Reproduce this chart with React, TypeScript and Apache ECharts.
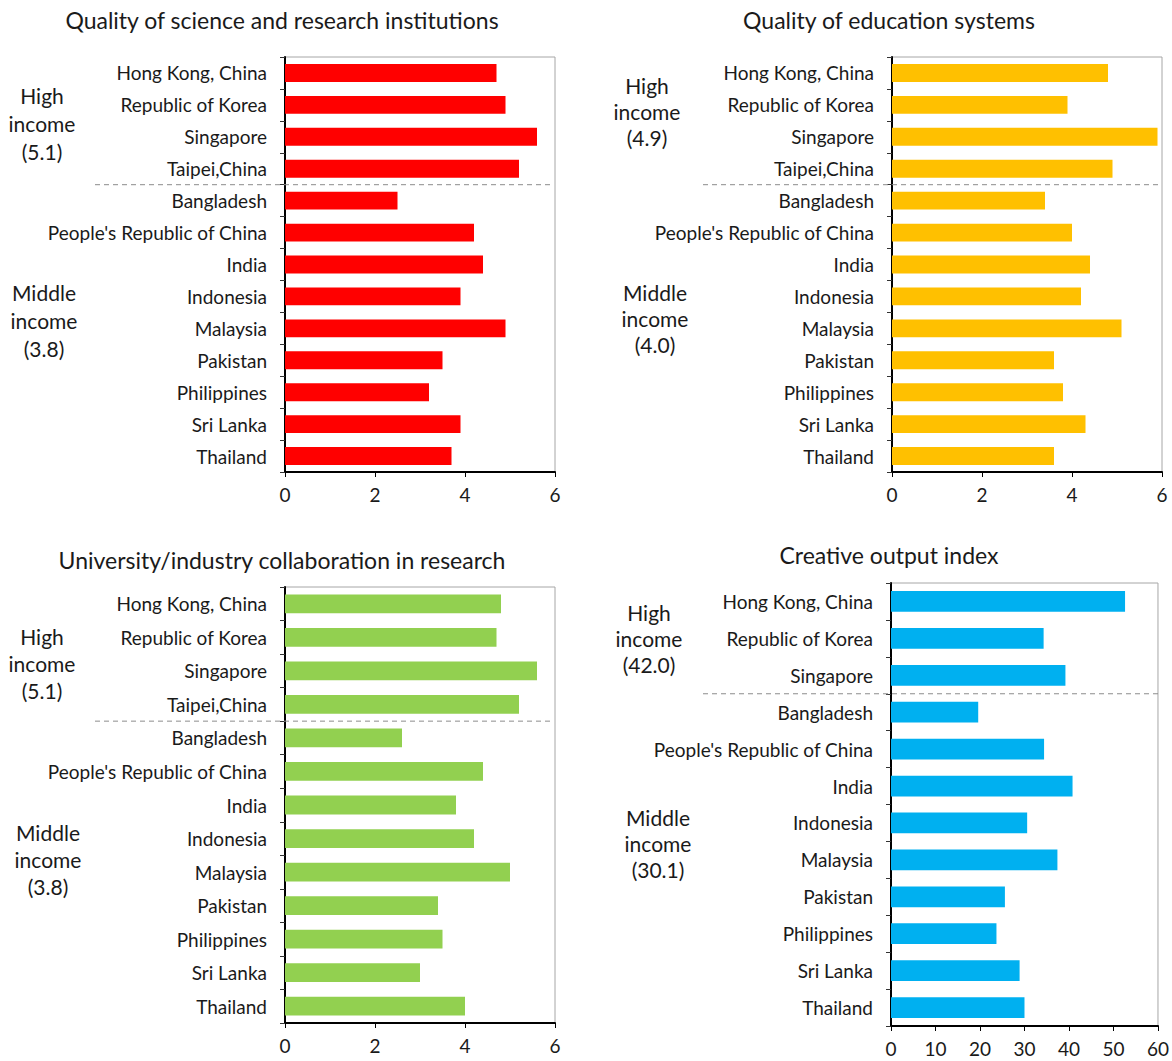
import React, { useEffect, useRef } from "react";
import * as echarts from "echarts";

// ---------- data ----------
const countries13 = [
  "Hong Kong, China",
  "Republic of Korea",
  "Singapore",
  "Taipei,China",
  "Bangladesh",
  "People's Republic of China",
  "India",
  "Indonesia",
  "Malaysia",
  "Pakistan",
  "Philippines",
  "Sri Lanka",
  "Thailand",
];
const countries12 = [
  "Hong Kong, China",
  "Republic of Korea",
  "Singapore",
  "Bangladesh",
  "People's Republic of China",
  "India",
  "Indonesia",
  "Malaysia",
  "Pakistan",
  "Philippines",
  "Sri Lanka",
  "Thailand",
];

const scienceValues = [4.7, 4.9, 5.6, 5.2, 2.5, 4.2, 4.4, 3.9, 4.9, 3.5, 3.2, 3.9, 3.7];
const educationValues = [4.8, 3.9, 5.9, 4.9, 3.4, 4.0, 4.4, 4.2, 5.1, 3.6, 3.8, 4.3, 3.6];
const collaborationValues = [4.8, 4.7, 5.6, 5.2, 2.6, 4.4, 3.8, 4.2, 5.0, 3.4, 3.5, 3.0, 4.0];
const creativeValues = [52.6, 34.3, 39.2, 19.6, 34.4, 40.8, 30.6, 37.4, 25.6, 23.7, 28.9, 30.0];

const titles = [
  "Quality of science and research institutions",
  "Quality of education systems",
  "University/industry collaboration in research",
  "Creative output index",
];
const highLabels = ["High\nincome\n(5.1)", "High\nincome\n(4.9)", "High\nincome\n(5.1)", "High\nincome\n(42.0)"];
const middleLabels = ["Middle\nincome\n(3.8)", "Middle\nincome\n(4.0)", "Middle\nincome\n(3.8)", "Middle\nincome\n(30.1)"];
const highCounts = [4, 4, 4, 3];

const scoreTicks = { min: 0, max: 6, interval: 2 };
const creativeTicks = { min: 0, max: 60, interval: 10 };

// ---------- layout / style ----------
const FONT = "Lato, 'Open Sans', sans-serif";
const TEXT = "#1a1a1a";
const colors = ["#FF0000", "#FFC000", "#92D050", "#00B0F0"];
const grids = [
  { left: 285, top: 57, width: 270, height: 415 },
  { left: 892, top: 57, width: 270, height: 415 },
  { left: 285, top: 587, width: 270, height: 436 },
  { left: 891, top: 583, width: 271, height: 443 },
];
const titlePos = [
  { x: 282, y: 20 },
  { x: 889, y: 20 },
  { x: 282, y: 560 },
  { x: 889, y: 555 },
];
const highPos = [
  { x: 42, y: 123 },
  { x: 647, y: 111 },
  { x: 42, y: 663 },
  { x: 649, y: 638 },
];
const middlePos = [
  { x: 44, y: 320 },
  { x: 655, y: 318 },
  { x: 48, y: 859 },
  { x: 658, y: 843 },
];
const highLineHeight = [28, 26, 27, 26];
const dashStart = [95, 703, 95, 703];

export default function App() {
  const ref = useRef<HTMLDivElement>(null);
  useEffect(() => {
    if (!ref.current) return;
    const chart = echarts.init(ref.current, null, { renderer: "svg" });
    const cats = [countries13, countries13, countries13, countries12];
    const vals = [scienceValues, educationValues, collaborationValues, creativeValues];
    const ticks = [scoreTicks, scoreTicks, scoreTicks, creativeTicks];

    const graphic: any[] = [];
    for (let i = 0; i < 4; i++) {
      graphic.push({
        type: "text",
        x: titlePos[i].x,
        y: titlePos[i].y,
        style: {
          text: titles[i],
          fill: TEXT,
          font: `23px ${FONT}`,
          textAlign: "center",
          textVerticalAlign: "middle",
        },
      });
      graphic.push({
        type: "text",
        x: highPos[i].x,
        y: highPos[i].y,
        style: {
          text: highLabels[i],
          fill: TEXT,
          font: `21px ${FONT}`,
          lineHeight: highLineHeight[i],
          textAlign: "center",
          textVerticalAlign: "middle",
        },
      });
      graphic.push({
        type: "text",
        x: middlePos[i].x,
        y: middlePos[i].y,
        style: {
          text: middleLabels[i],
          fill: TEXT,
          font: `21px ${FONT}`,
          lineHeight: highLineHeight[i],
          textAlign: "center",
          textVerticalAlign: "middle",
        },
      });
      const g = grids[i];
      const yDash = g.top + (g.height * highCounts[i]) / cats[i].length;
      graphic.push({
        type: "line",
        z: 100,
        shape: { x1: dashStart[i], y1: yDash, x2: g.left + g.width - 2, y2: yDash },
        style: { stroke: "#8c8c8c", lineWidth: 1, lineDash: [5, 4] },
      });
    }

    const option: any = {
      animation: false,
      backgroundColor: "#ffffff",
      textStyle: { fontFamily: FONT },
      grid: grids.map((g) => ({
        ...g,
        show: true,
        borderColor: "#a6a6a6",
        borderWidth: 1,
        backgroundColor: "transparent",
        containLabel: false,
      })),
      xAxis: ticks.map((t, i) => ({
        type: "value",
        gridIndex: i,
        min: t.min,
        max: t.max,
        interval: t.interval,
        splitLine: { show: false },
        axisLine: { show: true, lineStyle: { color: "#000", width: 2 } },
        axisTick: { show: true, length: 5, lineStyle: { color: "#000", width: 1 } },
        axisLabel: { color: TEXT, fontSize: 19, fontFamily: FONT, margin: 13 },
      })),
      yAxis: cats.map((c, i) => ({
        type: "category",
        gridIndex: i,
        data: c,
        inverse: true,
        axisLine: { show: true, lineStyle: { color: "#000", width: 2 } },
        axisTick: { show: true, length: 5, lineStyle: { color: "#333", width: 1 } },
        axisLabel: { color: TEXT, fontSize: 19, fontFamily: FONT, margin: 18 },
        splitLine: { show: false },
      })),
      series: vals.map((v, i) => ({
        type: "bar",
        xAxisIndex: i,
        yAxisIndex: i,
        data: v,
        barWidth: "56%",
        itemStyle: { color: colors[i] },
      })),
      graphic,
    };
    chart.setOption(option);
    return () => chart.dispose();
  }, []);
  return (
    <div
      ref={ref}
      style={{ position: "absolute", left: 0, top: 0, width: 1172, height: 1061 }}
    />
  );
}
